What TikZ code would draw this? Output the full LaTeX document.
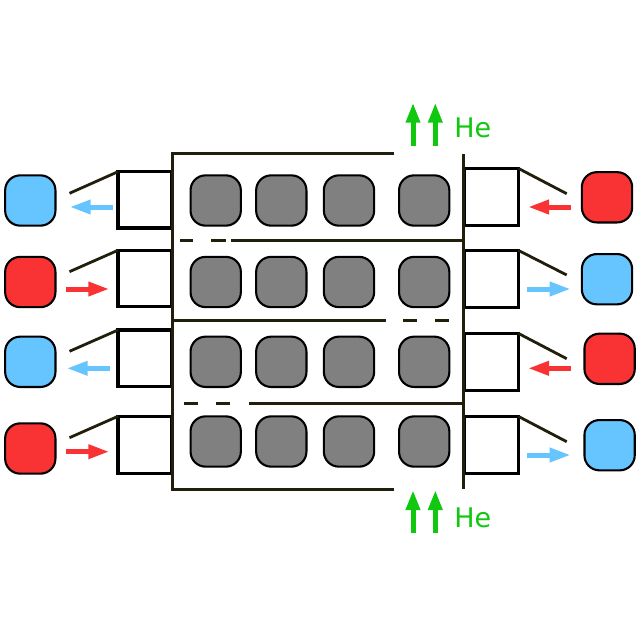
\documentclass[tikz,border=0pt]{standalone}
\usepackage{fontspec}
\setmainfont{DejaVu Sans}
\usetikzlibrary{arrows.meta}
\definecolor{coolblue}{HTML}{66C4FF}
\definecolor{hotred}{HTML}{F93333}
\definecolor{cellgray}{HTML}{808080}
\definecolor{hegreen}{HTML}{11C811}
\definecolor{wallcol}{HTML}{211E0C}
\tikzset{
  cell/.style={draw=black,line width=2.1pt,rounded corners=15pt,minimum width=50.3pt,minimum height=50.3pt,inner sep=0pt,outer sep=0pt},
  graycell/.style={cell,fill=cellgray},
  bluecell/.style={cell,fill=coolblue},
  redcell/.style={cell,fill=hotred},
  port/.style={draw=black,line width=3.2pt,minimum width=54pt,inner sep=0pt,outer sep=0pt},
  wall/.style={draw=wallcol,line width=3pt},
  flap/.style={draw=wallcol,line width=2.8pt},
  bluearrow/.style={draw=coolblue,line width=5pt,-{Triangle[length=21pt,width=13.5pt]}},
  redarrow/.style={draw=hotred,line width=5pt,-{Triangle[length=21pt,width=13.5pt]}},
  greenarrow/.style={draw=hegreen,line width=5pt,-{Triangle[length=20pt,width=13.5pt]}},
  helabel/.style={text=hegreen,font=\fontsize{27pt}{27pt}\selectfont,anchor=base west,inner sep=0pt,outer sep=0pt}
}
\begin{document}
\begin{tikzpicture}[x=1pt,y=-1pt]
\path[use as bounding box,fill=white] (0,0) rectangle (640,640);
% gray cells
\foreach \r/\y in {1/200.5,2/282,3/361.8,4/441.5}{
  \foreach \c/\x in {1/215.7,2/281.3,3/349,4/424.2}{
    \node[graycell] (g\r\c) at (\x,\y) {};
  }
}
% outer cells
\node[bluecell] (l1) at (30.3,200.5) {};
\node[redcell] (l2) at (30.3,282) {};
\node[bluecell] (l3) at (30.3,361.8) {};
\node[redcell] (l4) at (30.3,448.5) {};
\node[redcell] (r1) at (607,197.3) {};
\node[bluecell] (r2) at (607,279.2) {};
\node[redcell] (r3) at (609.6,358.8) {};
\node[bluecell] (r4) at (609.6,445.2) {};
% ports
\node[port,minimum height=56.3pt] (pl1) at (145,199.85) {};
\node[port,minimum height=56.4pt] (pl2) at (145,278.5) {};
\node[port,minimum height=56.7pt] (pl3) at (145,358.35) {};
\node[port,minimum height=57pt] (pl4) at (145,444.8) {};
\node[port,minimum height=57pt] (pr1) at (491.2,196.8) {};
\node[port,minimum height=57pt] (pr2) at (491.2,278.8) {};
\node[port,minimum height=57pt] (pr3) at (491.2,361.8) {};
\node[port,minimum height=57pt] (pr4) at (491.2,444.8) {};
% walls
\coordinate (tl) at (172,153.5);
\coordinate (bl) at (172,489);
\coordinate (te) at (394,153.5);
\coordinate (be) at (394,489);
\coordinate (rt) at (463.8,154);
\coordinate (rb) at (463.8,489);
\draw[wall] (te) -- (tl) -- (bl) -- (be);
\draw[wall] (rt) -- (rb);
% dividers
\coordinate (d1a) at (179.5,240); \coordinate (d1b) at (193,240);
\coordinate (d1c) at (211,240); \coordinate (d1d) at (225.5,240);
\coordinate (d1e) at (230.5,240); \coordinate (d1f) at (463.8,240);
\draw[wall] (d1a) -- (d1b);
\draw[wall] (d1c) -- (d1d);
\draw[wall] (d1e) -- (d1f);
\coordinate (d2a) at (172,320); \coordinate (d2b) at (385.7,320);
\coordinate (d2c) at (403.3,320); \coordinate (d2d) at (417,320);
\coordinate (d2e) at (435,320); \coordinate (d2f) at (449,320);
\draw[wall] (d2a) -- (d2b);
\draw[wall] (d2c) -- (d2d);
\draw[wall] (d2e) -- (d2f);
\coordinate (d3a) at (184.3,403); \coordinate (d3b) at (197.7,403);
\coordinate (d3c) at (215.7,403); \coordinate (d3d) at (230.3,403);
\coordinate (d3e) at (249,403); \coordinate (d3f) at (463.8,403);
\draw[wall] (d3a) -- (d3b);
\draw[wall] (d3c) -- (d3d);
\draw[wall] (d3e) -- (d3f);
% flaps
\coordinate (fl1) at (69.5,193.3);
\coordinate (fl2) at (69.5,271.7);
\coordinate (fl3) at (69.5,351.3);
\coordinate (fl4) at (69.5,437.7);
\coordinate (fr1) at (566.7,193.7);
\coordinate (fr2) at (566.7,275);
\coordinate (fr3) at (566.7,358.7);
\coordinate (fr4) at (566.7,441.7);
\foreach \i in {1,2,3,4}{
  \draw[flap] (pl\i.north west) -- (fl\i);
  \draw[flap] (pr\i.north east) -- (fr\i);
}
% flow arrows
\coordinate (al1a) at (112.7,207); \coordinate (al1b) at (69.7,207);
\coordinate (al2a) at (66,289); \coordinate (al2b) at (109.3,289);
\coordinate (al3a) at (110,368.3); \coordinate (al3b) at (66.7,368.3);
\coordinate (al4a) at (66,451.7); \coordinate (al4b) at (109.3,451.7);
\coordinate (ar1a) at (571,207); \coordinate (ar1b) at (528,207);
\coordinate (ar2a) at (527.3,289); \coordinate (ar2b) at (570.7,289);
\coordinate (ar3a) at (571,368.3); \coordinate (ar3b) at (528,368.3);
\coordinate (ar4a) at (527.3,455); \coordinate (ar4b) at (570.7,455);
\draw[bluearrow] (al1a) -- (al1b);
\draw[redarrow] (al2a) -- (al2b);
\draw[bluearrow] (al3a) -- (al3b);
\draw[redarrow] (al4a) -- (al4b);
\draw[redarrow] (ar1a) -- (ar1b);
\draw[bluearrow] (ar2a) -- (ar2b);
\draw[redarrow] (ar3a) -- (ar3b);
\draw[bluearrow] (ar4a) -- (ar4b);
% helium arrows
\coordinate (h1a) at (413,146); \coordinate (h1b) at (413,102.7);
\coordinate (h2a) at (435.3,146); \coordinate (h2b) at (435.3,102.7);
\coordinate (h3a) at (413,532.7); \coordinate (h3b) at (413,490);
\coordinate (h4a) at (435.3,532.7); \coordinate (h4b) at (435.3,490);
\draw[greenarrow] (h1a) -- (h1b);
\draw[greenarrow] (h2a) -- (h2b);
\draw[greenarrow] (h3a) -- (h3b);
\draw[greenarrow] (h4a) -- (h4b);
\node[helabel] (het) at (454.3,137.7) {He};
\node[helabel] (heb) at (454.3,527.7) {He};
\end{tikzpicture}
\end{document}
